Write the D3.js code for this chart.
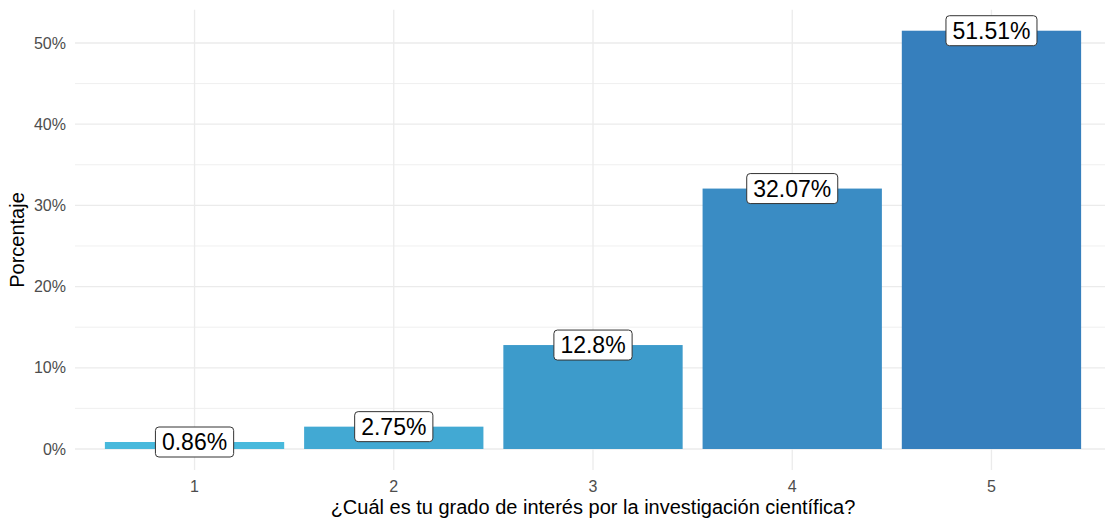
<!DOCTYPE html>
<html><head><meta charset="utf-8">
<script src="https://cdn.jsdelivr.net/npm/d3@7"></script>
<style>body{margin:0;background:#fff}svg{display:block;font-family:"Liberation Sans",Arial,sans-serif}</style>
</head><body><svg id="c" width="1105" height="520"></svg>
<script>
const categories = ["1","2","3","4","5"];
const values = [0.86, 2.75, 12.8, 32.07, 51.51];
const labels = ["0.86%","2.75%","12.8%","32.07%","51.51%"];
const colors = ["#48b9dc","#42a9d3","#3d9bcb","#3a8cc4","#367fbd"];
const yTicks = [0,10,20,30,40,50];
const yMinor = [5,15,25,35,45];
const xTitle = "¿Cuál es tu grado de interés por la investigación científica?";
const yTitle = "Porcentaje";

const svg = d3.select("#c");
const L = 75, R = 1111, T = 9.8, B = 469.9;
const maxV = d3.max(values), ex = maxV*0.05;
const y = d3.scaleLinear().domain([-ex, maxV+ex]).range([B, T]);
const x = d3.scaleBand().domain(categories).range([L, R]).paddingInner(0.1).paddingOuter(0.15);
// grid
const g = svg.append("g");
g.selectAll(".mn").data(yMinor).join("line").attr("x1",L).attr("x2",R)
  .attr("y1",d=>y(d)).attr("y2",d=>y(d)).attr("stroke","#ebebeb").attr("stroke-width",0.8);
g.selectAll(".mj").data(yTicks).join("line").attr("x1",L).attr("x2",R)
  .attr("y1",d=>y(d)).attr("y2",d=>y(d)).attr("stroke","#ebebeb").attr("stroke-width",1.3);
g.selectAll(".vx").data(categories).join("line").attr("y1",T).attr("y2",B)
  .attr("x1",d=>x(d)+x.bandwidth()/2).attr("x2",d=>x(d)+x.bandwidth()/2).attr("stroke","#ebebeb").attr("stroke-width",1.3);
// bars
svg.selectAll(".bar").data(values).join("rect")
  .attr("x",(d,i)=>x(categories[i])).attr("width",x.bandwidth())
  .attr("y",d=>y(d)).attr("height",d=>y(0)-y(d)).attr("fill",(d,i)=>colors[i]);
// axis labels
svg.selectAll(".yl").data(yTicks).join("text").attr("x",66).attr("y",d=>y(d))
  .attr("dy","0.35em").attr("text-anchor","end").attr("fill","#4d4d4d").attr("font-size",16)
  .text(d=>d+"%");
svg.selectAll(".xl").data(categories).join("text").attr("x",d=>x(d)+x.bandwidth()/2).attr("y",486)
  .attr("dy","0.35em").attr("text-anchor","middle").attr("fill","#4d4d4d").attr("font-size",16).text(d=>d);
svg.append("text").attr("x",(L+R)/2).attr("y",514).attr("text-anchor","middle").attr("font-size",20).attr("fill","#000").text(xTitle);
svg.append("text").attr("transform","translate(24,240) rotate(-90)").attr("text-anchor","middle").attr("font-size",20).attr("fill","#000").text(yTitle);
// labels
const lg = svg.selectAll(".lab").data(values).join("g")
  .attr("transform",(d,i)=>`translate(${x(categories[i])+x.bandwidth()/2},${y(d)})`);
lg.each(function(d,i){
  const s = d3.select(this);
  const r = s.append("rect");
  const t = s.append("text").attr("text-anchor","middle").attr("dy","0.36em").attr("font-size",23).attr("fill","#000").text(labels[i]);
  const w = t.node().getComputedTextLength()+13;
  r.attr("x",-w/2).attr("y",-15).attr("width",w).attr("height",30).attr("rx",3.5)
   .attr("fill","#fff").attr("stroke","#333").attr("stroke-width",1);
});
</script></body></html>
